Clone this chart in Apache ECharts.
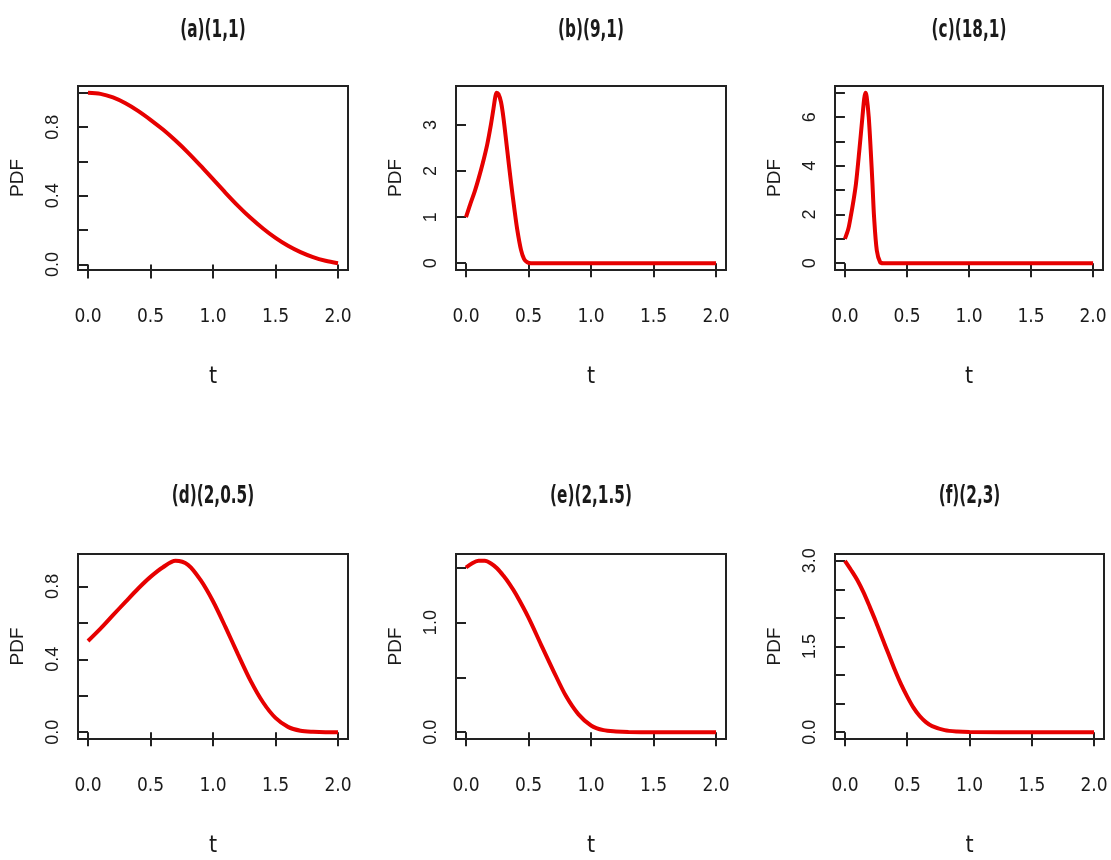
<!DOCTYPE html>
<html><head><meta charset="utf-8">
<script src="https://cdn.jsdelivr.net/npm/echarts@6/dist/echarts.min.js"></script>
<style>html,body{margin:0;padding:0;background:#fff}#c{width:1111px;height:860px}</style>
</head><body><div id="c"></div>
<script>
// ---- data ----
const panelTitles = ['(a)(1,1)', '(b)(9,1)', '(c)(18,1)', '(d)(2,0.5)', '(e)(2,1.5)', '(f)(2,3)'];

const tA = [0,0.1,0.2,0.3,0.4,0.5,0.6,0.7,0.8,0.9,1.0,1.1,1.2,1.3,1.4,1.5,1.6,1.7,1.8,1.9,2.0];
const pdfA = [1.0,0.994,0.973,0.939,0.895,0.843,0.786,0.722,0.652,0.576,0.497,0.418,0.342,0.272,0.21,0.155,0.109,0.072,0.043,0.022,0.008];

const tB = [0,0.035,0.07,0.1,0.135,0.17,0.2,0.22,0.235,0.245,0.26,0.28,0.3,0.33,0.36,0.385,0.41,0.44,0.465,0.49,0.52,0.6,1.0,1.5,2.0];
const pdfB = [1.0,1.29,1.56,1.83,2.18,2.58,3.02,3.36,3.62,3.70,3.67,3.50,3.15,2.45,1.75,1.22,0.73,0.29,0.09,0.02,0.0,0,0,0,0];

const tC = [0,0.027,0.046,0.07,0.089,0.116,0.141,0.155,0.165,0.175,0.192,0.208,0.222,0.235,0.257,0.284,0.31,0.5,1.0,1.5,2.0];
const pdfC = [1.0,1.4,1.89,2.6,3.26,4.63,6.0,6.75,7.0,6.85,6.0,4.63,3.26,1.89,0.52,0.04,0,0,0,0,0];

const tD = [0,0.1,0.2,0.3,0.4,0.5,0.6,0.7,0.8,0.9,1.0,1.1,1.2,1.3,1.4,1.5,1.6,1.7,1.8,1.9,2.0];
const pdfD = [0.50,0.568,0.642,0.715,0.787,0.852,0.905,0.940,0.918,0.835,0.718,0.576,0.427,0.283,0.164,0.078,0.029,0.008,0.002,0,0];

const tE = [0,0.05,0.1,0.15,0.2,0.25,0.3,0.35,0.4,0.5,0.6,0.7,0.8,0.9,1.0,1.1,1.2,1.3,1.5,2.0];
const pdfE = [1.503,1.543,1.564,1.564,1.54,1.494,1.427,1.35,1.259,1.046,0.80,0.558,0.329,0.162,0.061,0.018,0.006,0.001,0,0];

const tF = [0,0.05,0.1,0.15,0.2,0.25,0.3,0.35,0.4,0.45,0.5,0.55,0.6,0.65,0.7,0.8,0.9,1.0,1.5,2.0];
const pdfF = [3.0,2.836,2.66,2.443,2.19,1.926,1.644,1.368,1.092,0.84,0.622,0.429,0.282,0.176,0.106,0.035,0.01,0.002,0,0];

const xTicks = [0,0.5,1.0,1.5,2.0];
const xTickLabels = ['0.0','0.5','1.0','1.5','2.0'];

const yTicksA = [0,0.2,0.4,0.6,0.8,1.0];   const yLabelsA = ['0.0','0.4','0.8'];
const yTicksB = [0,1,2,3];                 const yLabelsB = ['0','1','2','3'];
const yTicksC = [0,1,2,3,4,5,6,7];         const yLabelsC = ['0','2','4','6'];
const yTicksD = [0,0.2,0.4,0.6,0.8];       const yLabelsD = ['0.0','0.4','0.8'];
const yTicksE = [0,0.5,1.0,1.5];           const yLabelsE = ['0.0','1.0'];
const yTicksF = [0,0.5,1.0,1.5,2.0,2.5,3.0]; const yLabelsF = ['0.0','1.5','3.0'];

const xName = 't';
const yName = 'PDF';

// ---- layout / style ----
const ts = [tA,tB,tC,tD,tE,tF];
const pdfs = [pdfA,pdfB,pdfC,pdfD,pdfE,pdfF];
const yTicks = [yTicksA,yTicksB,yTicksC,yTicksD,yTicksE,yTicksF];
const yLabels = [yLabelsA,yLabelsB,yLabelsC,yLabelsD,yLabelsE,yLabelsF];

const gridBoxes = [
  {left:78,  top:86,  width:270, height:184},
  {left:456, top:86,  width:270, height:184},
  {left:835, top:86,  width:268, height:184},
  {left:78,  top:554, width:270, height:185},
  {left:456, top:554, width:270, height:185},
  {left:835, top:554, width:269, height:185}
];
const titleCenters = [30,30,30,496,496,496];

const NARROW = "'DejaVu Sans Condensed','Liberation Sans Narrow',sans-serif";
const REG = "'Liberation Sans',Arial,Helvetica,sans-serif";
const INK = '#1a1a1a';
const RED = '#e60000';

function rExtend(lo, hi){ const r = hi - lo; return [lo - 0.04*r, hi + 0.04*r]; }

const option = {
  backgroundColor: '#ffffff',
  animation: false,
  graphic: [], grid: [], xAxis: [], yAxis: [], series: []
};

for (let i = 0; i < 6; i++) {
  const g = gridBoxes[i];
  option.graphic.push({
    type: 'text', x: g.left + g.width/2, y: titleCenters[i], scaleX: 0.68, scaleY: 1,
    style: {text: panelTitles[i], fill: INK, align: 'center', verticalAlign: 'middle',
      font: "bold 25px 'DejaVu Sans Condensed','Liberation Sans',sans-serif"}
  });
  option.grid.push({
    left: g.left, top: g.top, width: g.width, height: g.height,
    show: true, borderColor: '#222', borderWidth: 2, backgroundColor: 'transparent', containLabel: false
  });
  const xr = rExtend(0, 2);
  option.xAxis.push({
    type: 'value', gridIndex: i, min: xr[0], max: xr[1],
    name: xName, nameLocation: 'middle', nameGap: 96,
    nameTextStyle: {fontFamily: NARROW, fontSize: 23, color: INK},
    axisLine: {show: false},
    splitLine: {show: false},
    axisTick: {show: true, inside: false, length: 14, customValues: xTicks, lineStyle: {color: '#222', width: 2}},
    axisLabel: {show: true, margin: 38, customValues: xTicks, fontFamily: NARROW, fontSize: 19, color: INK,
      formatter: v => xTickLabels[xTicks.indexOf(+(+v).toFixed(6))] || ''}
  });
  const lo = Math.min.apply(null, pdfs[i]), hi = Math.max.apply(null, pdfs[i]);
  const yr = rExtend(lo, hi);
  const labVals = yLabels[i].map(parseFloat);
  const labs = yLabels[i];
  option.yAxis.push({
    type: 'value', gridIndex: i, min: yr[0], max: yr[1],
    name: yName, nameLocation: 'middle', nameGap: 51, nameRotate: 90,
    nameTextStyle: {fontFamily: REG, fontSize: 19, color: INK},
    axisLine: {show: false},
    splitLine: {show: false},
    axisTick: {show: true, inside: false, length: 10, customValues: yTicks[i], lineStyle: {color: '#222', width: 2}},
    axisLabel: {show: true, rotate: 90, margin: 16, customValues: labVals, fontFamily: REG, fontSize: 18, color: INK,
      formatter: v => { const k = labVals.findIndex(u => Math.abs(u - v) < 1e-9); return k >= 0 ? labs[k] : ''; }}
  });
  option.series.push({
    type: 'line', xAxisIndex: i, yAxisIndex: i,
    data: ts[i].map((t, j) => [t, pdfs[i][j]]),
    showSymbol: false, smooth: 0.3,
    lineStyle: {color: RED, width: 4},
    itemStyle: {color: RED}
  });
}

const chart = echarts.init(document.getElementById('c'), null, {renderer: 'canvas'});
chart.setOption(option);
</script>
</body></html>
